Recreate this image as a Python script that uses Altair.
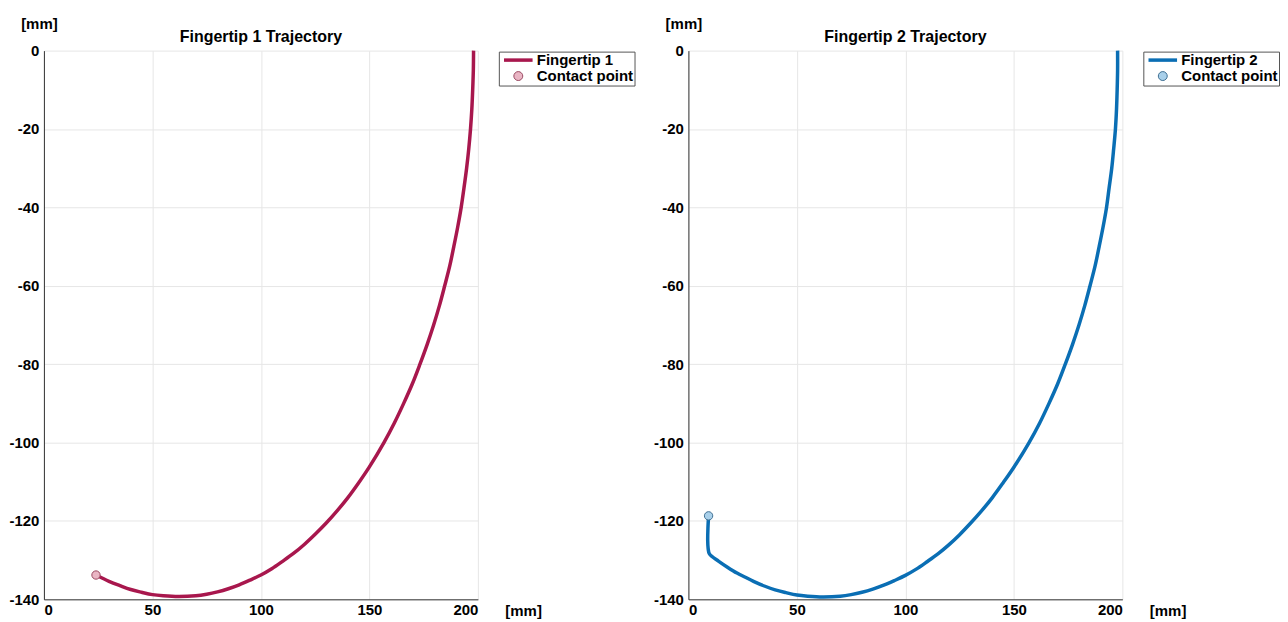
import altair as alt
import pandas as pd

# ---- data ----
f1_x = [24.0, 30.0, 35.0, 40.0, 45.0, 50.0, 55.0, 62.0, 70.0, 75.0, 80.0, 85.0, 90.0,
        95.0, 100.0, 105.0, 110.0, 115.0, 120.0, 125.0, 130.0, 135.0, 140.0, 145.0, 150.0,
        156.7, 161.5, 165.8, 169.8, 173.3, 176.6, 179.6, 182.3, 184.7, 187.0, 188.9, 190.7,
        192.3, 193.6, 194.8, 195.8, 196.6, 197.2, 197.6, 197.9, 198.0]
f1_y = [-133.8, -135.4, -136.5, -137.5, -138.2, -138.8, -139.1, -139.3, -139.1, -138.7,
        -138.1, -137.3, -136.3, -135.1, -133.8, -132.2, -130.3, -128.3, -126.0, -123.4,
        -120.6, -117.5, -114.1, -110.3, -106.2, -100.0, -95.0, -90.0, -85.0, -80.0, -75.0,
        -70.0, -65.0, -60.0, -55.0, -50.0, -45.0, -40.0, -35.0, -30.0, -25.0, -20.0, -15.0,
        -10.0, -5.0, 0.0]

f2_x = [9.3, 9.0, 8.9, 9.1, 9.7, 14.0, 18.0, 22.4, 26.0, 30.0, 35.0, 40.0, 45.0, 50.0,
        55.0, 62.0, 70.0, 75.0, 80.0, 85.0, 90.0, 95.0, 100.0, 105.0, 110.0, 115.0, 120.0,
        125.0, 130.0, 135.0, 140.0, 145.0, 150.0, 157.0, 161.9, 166.2, 170.2, 173.7, 177.0,
        180.0, 182.7, 185.1, 187.4, 189.3, 191.1, 192.7, 193.9, 195.1, 196.0, 196.8, 197.3,
        197.6, 197.8, 197.8]
f2_y = [-118.7, -122.0, -125.0, -127.0, -128.4, -130.3, -131.8, -133.3, -134.3, -135.4,
        -136.6, -137.6, -138.3, -138.9, -139.2, -139.4, -139.2, -138.8, -138.2, -137.4,
        -136.4, -135.2, -133.9, -132.3, -130.4, -128.4, -126.1, -123.5, -120.6, -117.5,
        -114.1, -110.3, -106.3, -100.0, -95.0, -90.0, -85.0, -80.0, -75.0, -70.0, -65.0,
        -60.0, -55.0, -50.0, -45.0, -40.0, -35.0, -30.0, -25.0, -20.0, -15.0, -10.0, -5.0,
        0.0]

contact1 = [24.0, -133.8]
contact2 = [9.3, -118.7]

x_ticks = [0, 50, 100, 150, 200]
y_ticks = [-140, -120, -100, -80, -60, -40, -20, 0]
names1 = ["Fingertip 1", "Contact point"]
names2 = ["Fingertip 2", "Contact point"]
titles = ["Fingertip 1 Trajectory", "Fingertip 2 Trajectory"]

FONT = "Liberation Sans"
W, H = 435, 550


def panel(xs, ys, contact, names, title, line_color, fill_color, edge_color):
    line_df = pd.DataFrame({"x": xs, "y": ys, "i": list(range(len(xs)))})
    pt_df = pd.DataFrame({"x": [contact[0]], "y": [contact[1]], "series": [names[1]]})

    xenc = alt.X(
        "x:Q",
        scale=alt.Scale(domain=[0, 200], nice=False, zero=False),
        axis=alt.Axis(values=x_ticks, title="[mm]", titleX=462, titleY=11,
                      titleAlign="left", titleBaseline="middle", labelPadding=3),
    )
    yenc = alt.Y(
        "y:Q",
        scale=alt.Scale(domain=[-140, 0], nice=False, zero=False),
        axis=alt.Axis(values=y_ticks, title="[mm]", titleAngle=0, titleX=-5, titleY=-27,
                      titleAlign="center", titleBaseline="middle", labelPadding=5,
                      labelExpr="'' + datum.value"),
    )

    stroke_scale = alt.Scale(domain=names, range=[line_color, edge_color])
    fill_scale = alt.Scale(domain=names, range=["transparent", fill_color])
    shape_scale = alt.Scale(domain=names, range=["M-3.2,0H3.2", "circle"])
    sw_scale = alt.Scale(type="ordinal", domain=names, range=[3.5, 1])

    legend = alt.Legend(
        orient="none", legendX=456, legendY=1, direction="vertical",
        padding=1, rowPadding=-1, symbolSize=80, symbolOffset=11, labelOffset=11,
        symbolStrokeWidth=1.5, symbolOpacity=1,
        labelFont=FONT, labelFontSize=15, labelFontWeight="bold", labelColor="black",
        strokeColor="#555555", fillColor="white",
    )

    line = alt.Chart(line_df).mark_line(
        color=line_color, strokeWidth=3.5, interpolate="catmull-rom"
    ).encode(x=xenc, y=yenc, order=alt.Order("i:Q"))

    pts = alt.Chart(pt_df).mark_point(filled=True, size=70, opacity=1).encode(
        x="x:Q", y="y:Q",
        shape=alt.Shape("series:N", scale=shape_scale, legend=legend, title=None),
        stroke=alt.Stroke("series:N", scale=stroke_scale, legend=legend, title=None),
        fill=alt.Fill("series:N", scale=fill_scale, legend=legend, title=None),
        strokeWidth=alt.StrokeWidth("series:N", scale=sw_scale, legend=legend, title=None),
    )

    return alt.layer(line, pts).properties(
        width=W, height=H,
        title=alt.TitleParams(title, font=FONT, fontSize=16, fontWeight="bold",
                              color="black", anchor="middle", frame="group", offset=-28),
    )


p1 = panel(f1_x, f1_y, contact1, names1, titles[0], "#A8174D", "#E9B5C4", "#9A4A62")
p2 = panel(f2_x, f2_y, contact2, names2, titles[1], "#0A6EB4", "#A9D0EA", "#3E6E92")

chart = alt.hconcat(p1, p2, spacing=17).resolve_scale(
    stroke="independent", fill="independent", shape="independent",
    strokeWidth="independent",
).resolve_legend(
    stroke="independent", fill="independent", shape="independent",
    strokeWidth="independent",
).properties(
    padding={"left": 0, "top": 7, "right": 0, "bottom": 0}
).configure_view(stroke="transparent").configure_axis(
    labelFont=FONT, labelFontSize=15, labelFontWeight="bold", labelColor="black",
    titleFont=FONT, titleFontSize=15, titleFontWeight="bold", titleColor="black",
    gridColor="#E6E6E6", gridWidth=1, domainColor="#333333", domainWidth=1, ticks=False,
)

chart.save("out.html", embed_options={"renderer": "svg", "actions": False})
